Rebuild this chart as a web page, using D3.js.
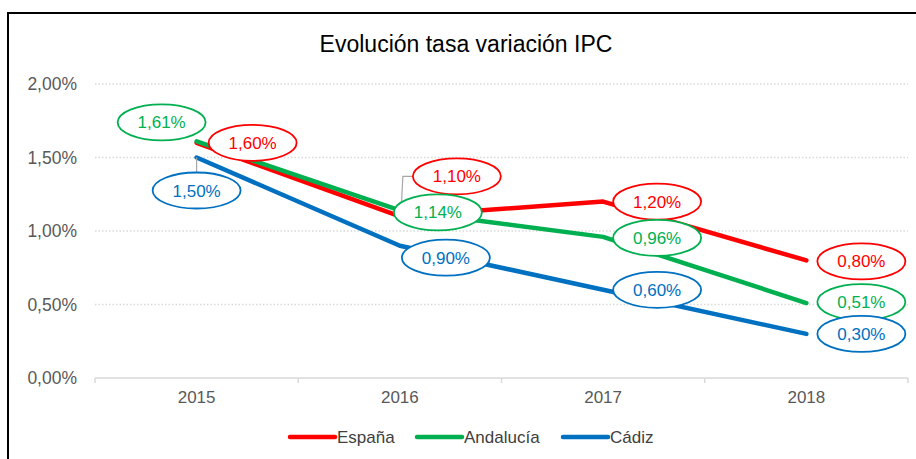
<!DOCTYPE html>
<html>
<head>
<meta charset="utf-8">
<script src="https://cdn.jsdelivr.net/npm/d3@7"></script>
<style>
  html, body { margin: 0; padding: 0; background: #fff; }
  svg { display: block; font-family: "Liberation Sans", Arial, sans-serif; }
</style>
</head>
<body>
<div id="chart"></div>
<script>
// data
var years = ['2015', '2016', '2017', '2018'];
var espana = [1.60, 1.10, 1.20, 0.80];
var andalucia = [1.61, 1.14, 0.96, 0.51];
var cadiz = [1.50, 0.90, 0.60, 0.30];
var yTicks = [0, 0.5, 1, 1.5, 2];

var series = [
  { name: 'España', values: espana, color: '#FF0000', text: '#FF0000' },
  { name: 'Andalucía', values: andalucia, color: '#00B050', text: '#00B050' },
  { name: 'Cádiz', values: cadiz, color: '#0070C0', text: '#0070C0' }
];

// label placement (offset from the point, px) and leader lines
var labelOffsets = {
  'España':    [[56, 0], [57, -40], [54, 0], [55, 1]],
  'Andalucía': [[-35, -19], [38, 2], [54, 1], [55, -1]],
  'Cádiz':     [[0, 33], [46, 12], [54, 0], [55, 0]]
};

var width = 916, height = 459;
var margin = {top: 84, right: 8, bottom: 81, left: 95};

var svg = d3.select('#chart').append('svg')
    .attr('width', width)
    .attr('height', height);

svg.append('rect')
    .attr('width', width).attr('height', height)
    .attr('fill', '#fff');

// outer frame (only top/left edges visible)
svg.append('rect')
    .attr('x', 8).attr('y', 13)
    .attr('width', 940).attr('height', 480)
    .attr('fill', 'none')
    .attr('stroke', '#000')
    .attr('stroke-width', 2);

var x = d3.scaleBand()
    .domain(years)
    .range([95, 908]);

var y = d3.scaleLinear()
    .domain([0, 2])
    .range([378, 84]);

function cx(d) { return x(d) + x.bandwidth() / 2; }
function fmt(v) { return d3.format('.2f')(v).replace('.', ',') + '%'; }

svg.append('text')
    .attr('x', 466)
    .attr('y', 52)
    .attr('text-anchor', 'middle')
    .attr('font-size', 23)
    .attr('fill', '#000')
    .text('Evolución tasa variación IPC');

// grid
svg.append('g')
    .selectAll('line')
    .data(yTicks.filter(function (t) { return t > 0; }))
    .enter().append('line')
      .attr('x1', 95).attr('x2', 908)
      .attr('y1', function (d) { return y(d); })
      .attr('y2', function (d) { return y(d); })
      .attr('stroke', '#D9D9D9')
      .attr('stroke-width', 1.3)
      .attr('stroke-dasharray', '1.5,2');

// y labels
var yAxis = d3.axisLeft(y)
    .tickValues(yTicks)
    .tickSize(0)
    .tickPadding(0)
    .tickFormat(fmt);

var yg = svg.append('g')
    .attr('transform', 'translate(77,0)')
    .call(yAxis);
yg.select('.domain').remove();
yg.selectAll('text')
    .attr('font-size', 17.5)
    .attr('font-family', '"Liberation Sans", Arial, sans-serif')
    .attr('fill', '#595959');

// x axis
svg.append('line')
    .attr('x1', 95).attr('x2', 908)
    .attr('y1', 378).attr('y2', 378)
    .attr('stroke', '#D9D9D9')
    .attr('stroke-width', 1.5);

var bounds = years.map(function (d) { return x(d); }).concat([x(years[years.length - 1]) + x.bandwidth()]);
svg.append('g')
    .selectAll('line')
    .data(bounds)
    .enter().append('line')
      .attr('x1', function (d) { return d; })
      .attr('x2', function (d) { return d; })
      .attr('y1', 378).attr('y2', 383)
      .attr('stroke', '#D9D9D9')
      .attr('stroke-width', 1.5);

svg.append('g')
    .selectAll('text')
    .data(years)
    .enter().append('text')
      .attr('x', cx)
      .attr('y', 403)
      .attr('text-anchor', 'middle')
      .attr('font-size', 17)
      .attr('fill', '#595959')
      .text(function (d) { return d; });

// lines
var line = d3.line()
    .x(function (d, i) { return cx(years[i]); })
    .y(function (d) { return y(d); });

svg.append('g')
    .selectAll('path')
    .data(series)
    .enter().append('path')
      .attr('d', function (s) { return line(s.values); })
      .attr('fill', 'none')
      .attr('stroke', function (s) { return s.color; })
      .attr('stroke-width', 4.5)
      .attr('stroke-linejoin', 'round')
      .attr('stroke-linecap', 'round');

// data labels
var labels = svg.append('g');
series.forEach(function (s) {
  s.values.forEach(function (v, i) {
    var px = cx(years[i]), py = y(v);
    var off = labelOffsets[s.name][i];
    var lx = px + off[0], ly = py + off[1];

    if (s.name === 'España' && i === 1) {
      labels.append('polyline')
          .attr('points', [[lx - 44, ly], [px + 3, ly], [px + 1, py - 1]].join(' '))
          .attr('fill', 'none')
          .attr('stroke', '#A6A6A6')
          .attr('stroke-width', 1.2);
    }
    if (s.name === 'Cádiz' && i === 0) {
      labels.append('line')
          .attr('x1', px).attr('y1', py)
          .attr('x2', px).attr('y2', ly - 18)
          .attr('stroke', '#A6A6A6')
          .attr('stroke-width', 1.2);
    }

    labels.append('ellipse')
        .attr('cx', lx).attr('cy', ly)
        .attr('rx', 44).attr('ry', 18)
        .attr('fill', '#fff')
        .attr('stroke', s.color)
        .attr('stroke-width', 1.8);

    labels.append('text')
        .attr('x', lx).attr('y', ly + 6)
        .attr('text-anchor', 'middle')
        .attr('font-size', 17)
        .attr('fill', s.text)
        .text(fmt(v));
  });
});

// legend
var legendX = [290, 417, 563];
var legend = svg.append('g');
series.forEach(function (s, i) {
  legend.append('line')
      .attr('x1', legendX[i]).attr('x2', legendX[i] + 45)
      .attr('y1', 437).attr('y2', 437)
      .attr('stroke', s.color)
      .attr('stroke-width', 4.5)
      .attr('stroke-linecap', 'round');
  legend.append('text')
      .attr('x', legendX[i] + 47)
      .attr('y', 443)
      .attr('font-size', 17)
      .attr('fill', '#404040')
      .text(s.name);
});
</script>
</body>
</html>
